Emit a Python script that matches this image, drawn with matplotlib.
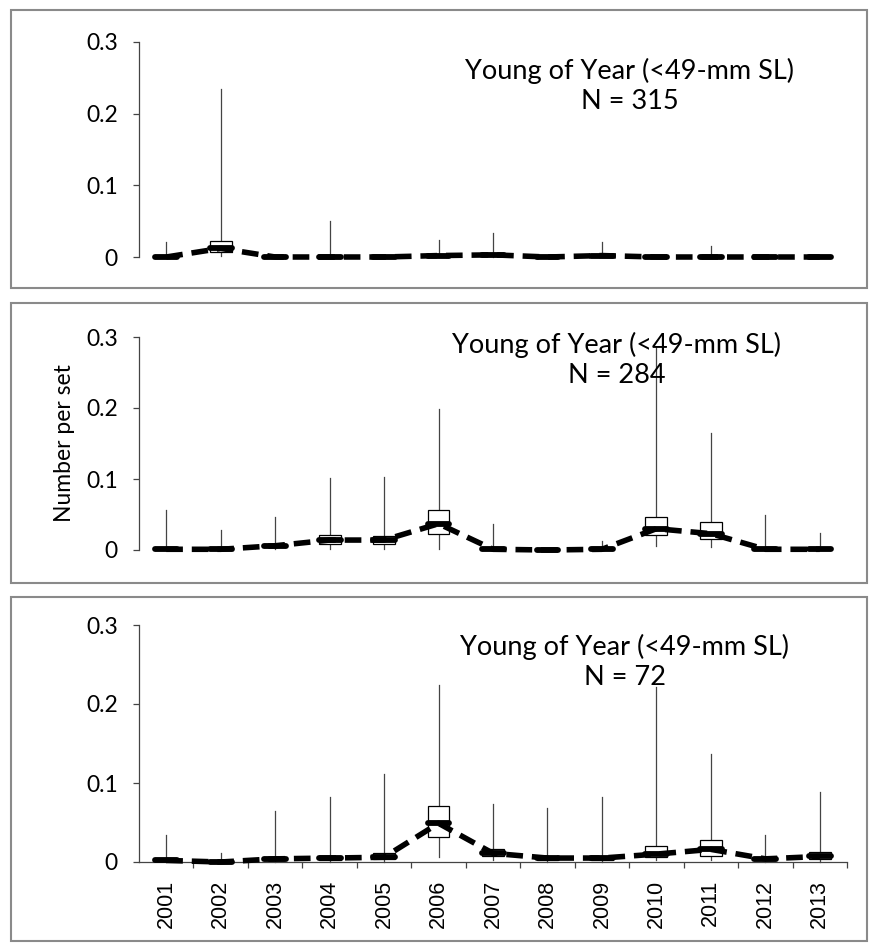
"""Young-of-year catch per set, box plots by year for three panels."""
import matplotlib
import matplotlib.pyplot as plt
from matplotlib.patches import Rectangle

matplotlib.use("Agg")

plt.rcParams["font.family"] = ["Lato", "DejaVu Sans"]

W, H = 872, 944

years = [str(y) for y in range(2001, 2014)]
positions = list(range(1, len(years) + 1))

# panel 1 (N = 315)
hi1 = [0.021, 0.235, 0.0, 0.050, 0.0, 0.024, 0.033, 0.0, 0.021, 0.0, 0.016, 0.0, 0.0]
q3_1 = [0.002, 0.022, 0.001, 0.002, 0.001, 0.004, 0.005, 0.001, 0.004, 0.001, 0.002, 0.001, 0.001]
med1 = [0.0, 0.012, 0.0, 0.0, 0.0, 0.002, 0.003, 0.0, 0.002, 0.0, 0.0, 0.0, 0.0]
q1_1 = [0.0, 0.007, 0.0, 0.0, 0.0, 0.001, 0.001, 0.0, 0.001, 0.0, 0.0, 0.0, 0.0]
lo1 = [0.0, 0.002, 0.0, 0.0, 0.0, 0.0, 0.0, 0.0, 0.0, 0.0, 0.0, 0.0, 0.0]

# panel 2 (N = 284)
hi2 = [0.057, 0.028, 0.047, 0.102, 0.103, 0.198, 0.037, 0.0, 0.013, 0.286, 0.165, 0.049, 0.024]
q3_2 = [0.003, 0.003, 0.009, 0.021, 0.020, 0.057, 0.003, 0.001, 0.003, 0.047, 0.039, 0.003, 0.003]
med2 = [0.001, 0.001, 0.006, 0.014, 0.014, 0.037, 0.001, 0.0, 0.001, 0.030, 0.023, 0.001, 0.001]
q1_2 = [0.0, 0.0, 0.004, 0.009, 0.009, 0.023, 0.0, 0.0, 0.0, 0.021, 0.016, 0.0, 0.0]
lo2 = [0.0, 0.0, 0.001, 0.002, 0.002, 0.002, 0.0, 0.0, 0.0, 0.005, 0.004, 0.0, 0.0]

# panel 3 (N = 72)
hi3 = [0.034, 0.011, 0.065, 0.082, 0.111, 0.224, 0.074, 0.068, 0.082, 0.222, 0.137, 0.034, 0.089]
q3_3 = [0.003, 0.001, 0.005, 0.007, 0.011, 0.071, 0.017, 0.006, 0.006, 0.020, 0.028, 0.005, 0.013]
med3 = [0.002, 0.0, 0.004, 0.005, 0.006, 0.049, 0.011, 0.005, 0.005, 0.010, 0.016, 0.004, 0.007]
q1_3 = [0.001, 0.0, 0.002, 0.003, 0.004, 0.032, 0.007, 0.003, 0.003, 0.006, 0.008, 0.002, 0.004]
lo3 = [0.0, 0.0, 0.0, 0.0, 0.0, 0.006, 0.002, 0.0, 0.0, 0.002, 0.003, 0.0, 0.0]

panel_titles = ["Young of Year (<49-mm SL)\nN = 315",
                "Young of Year (<49-mm SL)\nN = 284",
                "Young of Year (<49-mm SL)\nN = 72"]

yticks = [0, 0.1, 0.2, 0.3]
ytick_labels = ["0", "0.1", "0.2", "0.3"]

panels = [
    (lo1, q1_1, med1, q3_1, hi1),
    (lo2, q1_2, med2, q3_2, hi2),
    (lo3, q1_3, med3, q3_3, hi3),
]

# axes rectangles in pixels: (top, bottom) of the 0..0.3 range
_AX_PIX = [(42, 257), (337, 550), (625, 862)]
_AX_LEFT, _AX_RIGHT = 139, 847
# panel frames (top, bottom)
_FRAMES = [(10, 288), (303, 583), (597, 941)]
# title text position in axes fractions
_TEXT_POS = [(0.693, 0.795), (0.675, 0.892), (0.686, 0.844)]


def _stats(lo, q1, med, q3, hi):
    return [dict(whislo=a, q1=b, med=c, q3=d, whishi=e, fliers=[])
            for a, b, c, d, e in zip(lo, q1, med, q3, hi)]


fig = plt.figure(figsize=(W / 100, H / 100), dpi=100)
fig.patch.set_facecolor("white")

for top, bot in _FRAMES:
    fig.add_artist(Rectangle((11 / W, 1 - bot / H), (867 - 11) / W, (bot - top) / H,
                             transform=fig.transFigure, fill=False,
                             ec="#8a8a8a", lw=1.5))

for i, (data, title) in enumerate(zip(panels, panel_titles)):
    top, bot = _AX_PIX[i]
    ax = fig.add_axes([_AX_LEFT / W, 1 - bot / H, (_AX_RIGHT - _AX_LEFT) / W, (bot - top) / H])
    lo, q1, med, q3, hi = data

    arts = ax.bxp(_stats(lo, q1, med, q3, hi), positions=positions, widths=0.4,
                  showcaps=False, showfliers=False, patch_artist=True,
                  manage_ticks=False,
                  boxprops=dict(facecolor="white", edgecolor="black", lw=0.9, zorder=3),
                  whiskerprops=dict(color="#444444", lw=0.9, zorder=2),
                  medianprops=dict(color="black", lw=4.2, solid_capstyle="round", zorder=5))
    ax.plot(positions, med, color="black", lw=4.0, ls=(0, (3, 1.6)),
            zorder=4, clip_on=False)
    for group in arts.values():
        for a in group:
            a.set_clip_on(False)

    ax.set_xlim(0.5, len(years) + 0.5)
    ax.set_ylim(0, 0.3)
    ax.set_yticks(yticks)
    ax.set_yticklabels(ytick_labels, fontsize=16.5)
    ax.tick_params(axis="y", direction="out", length=4.3, width=0.9,
                   color="#444444", pad=11)
    for side in ("top", "right"):
        ax.spines[side].set_visible(False)
    ax.spines["left"].set_color("#444444")
    ax.spines["left"].set_linewidth(0.9)

    if i < 2:
        ax.spines["bottom"].set_visible(False)
        ax.set_xticks([])
    else:
        ax.spines["bottom"].set_color("#444444")
        ax.spines["bottom"].set_linewidth(0.9)
        ax.set_xticks(positions)
        ax.set_xticklabels(years, rotation=90, fontsize=15.5, family="Liberation Sans")
        ax.set_xticks([p + 0.5 for p in positions], minor=True)
        ax.tick_params(axis="x", which="major", length=0, pad=13)
        ax.tick_params(axis="x", which="minor", direction="out", length=4.3,
                       width=0.9, color="#444444")

    tx, ty = _TEXT_POS[i]
    ax.text(tx, ty, title, transform=ax.transAxes, ha="center", va="center",
            fontsize=19.5, linespacing=1.25)
    ax.patch.set_alpha(0)

fig.text(64 / W, 1 - 443 / H, "Number per set", rotation=90, ha="center",
         va="center", fontsize=16.5)

fig.savefig("out.png", dpi=100, facecolor="white")
